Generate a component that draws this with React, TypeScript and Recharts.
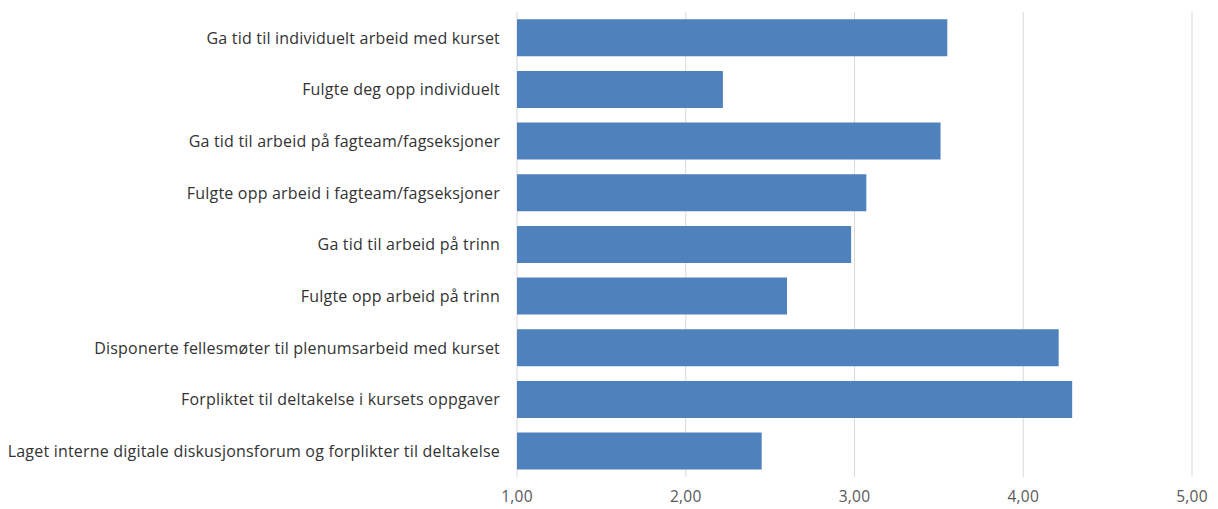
import { Bar, BarChart, CartesianGrid, XAxis, YAxis } from "recharts";

const categories = [
  "Ga tid til individuelt arbeid med kurset",
  "Fulgte deg opp individuelt",
  "Ga tid til arbeid på fagteam/fagseksjoner",
  "Fulgte opp arbeid i fagteam/fagseksjoner",
  "Ga tid til arbeid på trinn",
  "Fulgte opp arbeid på trinn",
  "Disponerte fellesmøter til plenumsarbeid med kurset",
  "Forpliktet til deltakelse i kursets oppgaver",
  "Laget interne digitale diskusjonsforum og forplikter til deltakelse",
];

const values = [3.55, 2.22, 3.51, 3.07, 2.98, 2.6, 4.21, 4.29, 2.45];

const xTicks = [1, 2, 3, 4, 5];

const data = categories.map((name, i) => ({ name, value: values[i] }));

const FONT = "'Open Sans', sans-serif";

export default function App() {
  return (
    <div style={{ position: "fixed", top: 0, left: 0, background: "#FFFFFF" }}>
      <BarChart
        width={1218}
        height={509}
        data={data}
        layout="vertical"
        barCategoryGap="14%"
        margin={{ top: 12, right: 26, bottom: 0, left: 0 }}
      >
        <CartesianGrid stroke="#D9D9D9" horizontal={false} />
        <XAxis
          type="number"
          domain={[1, 5]}
          ticks={xTicks}
          allowDataOverflow
          axisLine={false}
          tickLine={false}
          height={32}
          tickMargin={8}
          tickFormatter={(v: number) => v.toFixed(2).replace(".", ",")}
          tick={{ fill: "#595959", fontSize: 15.5, fontFamily: FONT, letterSpacing: 0.2 }}
        />
        <YAxis
          type="category"
          dataKey="name"
          width={517}
          axisLine={false}
          tickLine={false}
          tickSize={0}
          tickMargin={17}
          interval={0}
          tick={{ fill: "#333333", fontSize: 16, fontFamily: FONT, letterSpacing: 0.2 }}
        />
        <Bar dataKey="value" fill="#4F81BD" isAnimationActive={false} />
      </BarChart>
    </div>
  );
}
